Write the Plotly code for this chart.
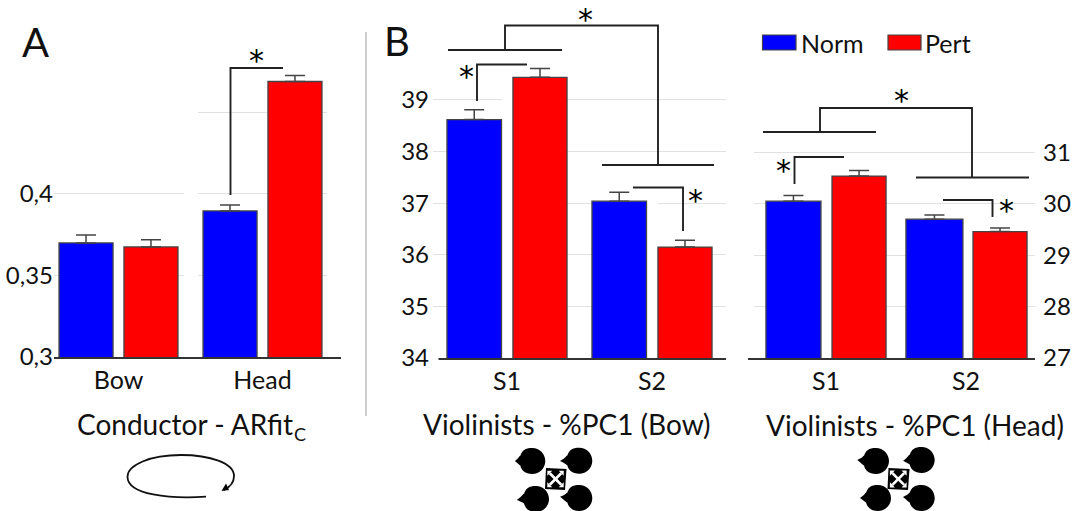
import plotly.graph_objects as go

W, H = 1083, 511
FONT = "Lato"
BLUE, RED = "#0000ff", "#ff0000"
EDGE = "#444444"
GRID = "#e2e2e2"

# ---- data
cats_a = ["Bow", "Head"]
norm_a = [0.370, 0.3896]
pert_a = [0.3675, 0.469]
norm_a_err = [0.0048, 0.0037]
pert_a_err = [0.0045, 0.0037]
ticks_a = [0.3, 0.35, 0.4]
ticktext_a = ["0,3", "0,35", "0,4"]
grid_only_a = [0.45]

cats_b = ["S1", "S2"]
norm_b = [38.62, 37.04]
pert_b = [39.44, 36.15]
norm_b_err = [0.19, 0.17]
pert_b_err = [0.17, 0.13]
ticks_b = [34, 35, 36, 37, 38, 39]

norm_c = [30.05, 29.70]
pert_c = [30.54, 29.46]
norm_c_err = [0.11, 0.08]
pert_c_err = [0.11, 0.07]
ticks_c = [27, 28, 29, 30, 31]

# ---- layout constants (pixels)
panels = {
    "a": dict(x0=54, x1=341, y0=30, y1=357, c0=118.5, dx=144, rng=(0.3, 0.5006)),
    "b": dict(x0=433, x1=726, y0=10, y1=358, c0=507, dx=145, rng=(34, 40.744)),
    "c": dict(x0=748, x1=1035, y0=10, y1=358, c0=826, dx=140, rng=(27, 33.77)),
}


def px(x):
    return x / W


def py(y):
    return 1 - y / H


shapes, annos = [], []


def line(points, width=1.9, color="#222222"):
    d = "M" + " L".join(f"{px(x):.5f},{py(y):.5f}" for x, y in points)
    shapes.append(dict(type="path", path=d, xref="paper", yref="paper",
                       line=dict(color=color, width=width), layer="above"))


def text(x, y, s, size=27, anchor="center", color="#111111", family=FONT):
    annos.append(dict(x=px(x), y=py(y), xref="paper", yref="paper", text=s, showarrow=False,
                      xanchor=anchor, yanchor="middle", font=dict(family=family, size=size, color=color),
                      align=anchor if anchor != "center" else "center", borderpad=0))


def bars(xa, ya, cats, norm, pert, nerr, perr, off_n, off_p, w_n, w_p):
    traces = []
    for name, vals, errs, col, off, w in (("Norm", norm, nerr, BLUE, off_n, w_n), ("Pert", pert, perr, RED, off_p, w_p)):
        traces.append(go.Bar(
            x=list(range(len(cats))), y=vals, name=name, xaxis=xa, yaxis=ya, offset=off, width=w,
            marker=dict(color=col, line=dict(color=EDGE, width=1.3)), showlegend=False,
            error_y=dict(type="data", symmetric=False, array=errs, arrayminus=[0] * len(errs),
                         color=EDGE, thickness=1.5, width=10)))
    return traces


data = []
data += bars("x", "y", cats_a, norm_a, pert_a, norm_a_err, pert_a_err, -0.413, 0.038, 0.375, 0.375)
data += bars("x2", "y2", cats_b, norm_b, pert_b, norm_b_err, pert_b_err, -0.414, 0.041, 0.376, 0.373)
data += bars("x3", "y3", cats_b, norm_c, pert_c, norm_c_err, pert_c_err,
             [-0.429, -0.429], [0.043, 0.05], [0.393, 0.407], [0.386, 0.386])
fig = go.Figure(data=data)


def axes(p, suffix, cats, ticks, ticktext, side, grid_only=None, standoff=3):
    P = panels[p]
    xr = ((P["x0"] - P["c0"]) / P["dx"], (P["x1"] - P["c0"]) / P["dx"])
    xaxis = dict(domain=[px(P["x0"]), px(P["x1"])], range=xr, tickmode="array", tickvals=list(range(len(cats))),
                 ticktext=cats, showgrid=False, zeroline=False, showline=True, linecolor="#333333", linewidth=1.5,
                 automargin=False,
                 tickfont=dict(family=FONT, size=25, color="#111111"), ticks="", anchor="y" + suffix, ticklabelstandoff=0)
    yaxis = dict(domain=[py(P["y1"]), py(P["y0"])], range=P["rng"], tickmode="array", tickvals=ticks,
                 ticktext=ticktext, showgrid=True, gridcolor=GRID, gridwidth=1.3, zeroline=False, showline=False,
                 automargin=False,
                 tickfont=dict(family=FONT, size=24, color="#111111"), ticks="", side=side,
                 anchor="x" + suffix, ticklabelstandoff=standoff)
    if grid_only:
        yaxis["minor"] = dict(tickmode="array", tickvals=grid_only, showgrid=True, gridcolor=GRID, gridwidth=1.3, ticks="")
    fig.update_layout({"xaxis" + suffix: xaxis, "yaxis" + suffix: yaxis})


axes("a", "", cats_a, ticks_a, ticktext_a, "left", grid_only_a, standoff=0)
axes("b", "2", cats_b, ticks_b, [str(v) for v in ticks_b], "left", standoff=3)
axes("c", "3", cats_b, ticks_c, [str(v) for v in ticks_c], "right", standoff=7)


def mask(p, suffix, x0, x1, y0, y1):
    """White patch hiding gridlines in gaps, given in pixels, between grid and bars."""
    P = panels[p]
    k = (P["rng"][1] - P["rng"][0]) / (P["y1"] - P["y0"])
    shapes.append(dict(type="rect", layer="between", xref="x" + suffix, yref="y" + suffix,
                       x0=(x0 - P["c0"]) / P["dx"], x1=(x1 - P["c0"]) / P["dx"],
                       y0=P["rng"][0] + (P["y1"] - y1) * k, y1=P["rng"][0] + (P["y1"] - y0) * k,
                       fillcolor="white", line=dict(width=0)))


for a in [(54, 190, 30, 150), (113, 124, 240, 356), (184, 198, 30, 356), (257, 268, 205, 356), (327, 341, 30, 356)]:
    mask("a", "", *a)
for a in [(502, 513, 90, 357), (647, 658, 195, 357)]:
    mask("b", "2", *a)
for a in [(748, 754, 10, 357), (821, 832, 195, 357), (963, 973, 215, 357)]:
    mask("c", "3", *a)
shapes.append(dict(type="rect", xref="paper", yref="paper", x0=px(432), x1=px(438.5), y0=py(360), y1=py(355.5),
                   fillcolor="white", line=dict(width=0), layer="above"))

# divider
line([(366, 32), (366, 416)], width=1.5, color="#bdbdbd")

# brackets and stars
brackets = [
    [(230.5, 195), (230.5, 68), (283, 68)],
    [(448, 50), (562, 50)], [(505, 50), (505, 25.5), (658, 25.5), (658, 165)], [(602, 165), (714, 165)],
    [(477, 101), (477, 64.5), (527, 64.5)],
    [(633, 187.5), (683, 187.5), (683, 231)],
    [(763, 132), (876, 132)], [(820, 132), (820, 108), (972, 108), (972, 177.5)], [(916, 177.5), (1029, 177.5)],
    [(794.5, 184), (794.5, 157), (844, 157)],
    [(943, 200), (992.5, 200), (992.5, 217)],
]
for b in brackets:
    line(b)
stars = [(256, 60), (585, 19), (466, 77), (695, 201), (901, 101), (783, 170), (1006, 210)]
for x, y in stars:
    text(x, y, "*", size=30, color="#000000", family="DejaVu Sans")

# panel letters
text(35, 42, "A", size=40)
text(397, 41, "B", size=40)

# titles
text(76, 424, "Conductor - ARfit", size=28, anchor="left")
text(293, 434, "C", size=18, anchor="left")
text(567, 424, "Violinists - %PC1 (Bow)", size=28)
text(915, 425, "Violinists - %PC1 (Head)", size=28)

# legend
for x0, x1, col, name, tx in [(762.5, 796, BLUE, "Norm", 800), (888, 921, RED, "Pert", 924)]:
    shapes.append(dict(type="rect", xref="paper", yref="paper", x0=px(x0), x1=px(x1), y0=py(50), y1=py(35),
                       fillcolor=col, line=dict(color=EDGE, width=1.2), layer="above"))
    text(tx, 43, name, size=25, anchor="left")


def fill(d_pts, color="black"):
    shapes.append(dict(type="path", path=d_pts, xref="paper", yref="paper", fillcolor=color,
                       line=dict(width=0), layer="above"))


def P(x, y):
    return f"{px(x):.5f},{py(y):.5f}"


# rotation symbol
curve = ("M" + P(206, 496.7) + " C" + P(170, 499) + " " + P(127.5, 495) + " " + P(127.5, 476.7)
         + " C" + P(127.5, 465) + " " + P(150, 455) + " " + P(181, 455)
         + " C" + P(210, 455) + " " + P(234, 463) + " " + P(234, 476)
         + " C" + P(234, 482) + " " + P(230, 487) + " " + P(224, 490))
shapes.append(dict(type="path", path=curve, xref="paper", yref="paper", line=dict(color="#111111", width=1.8), layer="above"))
fill("M" + P(221.5, 491) + " L" + P(229, 490) + " L" + P(226, 483.5) + " Z")


def blob(cx, cy, tx, ty, r=13):
    k = 0.5523 * r
    d = ("M" + P(tx, ty) + " C" + P(cx - r, cy - r * 0.25) + " " + P(cx - r, cy - r * 0.4) + " " + P(cx - r * 0.92, cy - r * 0.4)
         + " C" + P(cx - r * 0.8, cy - r * 0.8) + " " + P(cx - k, cy - r) + " " + P(cx, cy - r)
         + " C" + P(cx + k, cy - r) + " " + P(cx + r, cy - k) + " " + P(cx + r, cy)
         + " C" + P(cx + r, cy + k) + " " + P(cx + k, cy + r) + " " + P(cx, cy + r)
         + " C" + P(cx - k, cy + r) + " " + P(cx - r * 0.85, cy + r * 0.7) + " " + P(cx - r * 0.92, cy + r * 0.35)
         + " C" + P(cx - r, cy + r * 0.3) + " " + P(cx - r * 1.1, cy + r * 0.2) + " " + P(tx, ty) + " Z")
    fill(d)


def move_icon(x0, y0, x1, y1):
    cx, cy = (x0 + x1) / 2, (y0 + y1) / 2
    h = (x1 - x0) / 2
    fill("M" + P(x0 + 1, y0) + " L" + P(x1 + 0.5, y0 + 1) + " L" + P(x1 - 1, y1) + " L" + P(x0, y1 - 1) + " Z")
    a = h * 0.78
    for sx, sy in [(-1, -1), (1, -1)]:
        shapes.append(dict(type="path", path="M" + P(cx + sx * a * 0.7, cy + sy * a * 0.7) + " L" + P(cx - sx * a * 0.7, cy - sy * a * 0.7),
                           xref="paper", yref="paper", line=dict(color="white", width=2.6), layer="above"))
    for sx, sy in [(-1, -1), (1, -1), (1, 1), (-1, 1)]:
        fill("M" + P(cx + sx * a, cy + sy * a) + " L" + P(cx + sx * a * 0.4, cy + sy * a)
             + " L" + P(cx + sx * a, cy + sy * a * 0.4) + " Z", "white")


for c in [(532.3, 461, 515, 461), (579.3, 460.7, 560, 461), (536, 499, 516.7, 500), (579.3, 498, 560, 496.7),
          (876, 461, 857.3, 460), (921.7, 460, 903, 461), (878, 498, 860, 498), (921.7, 498, 903, 497)]:
    blob(*c)
move_icon(545, 468, 566, 490)
move_icon(887.5, 468, 909, 490)

fig.update_layout(width=W, height=H, margin=dict(l=0, r=0, t=0, b=0), plot_bgcolor="white", paper_bgcolor="white",
                  barmode="overlay", showlegend=False, shapes=shapes, annotations=annos)
fig.write_html("out.html", config=dict(displayModeBar=False), post_script="document.body.style.margin='0';")
